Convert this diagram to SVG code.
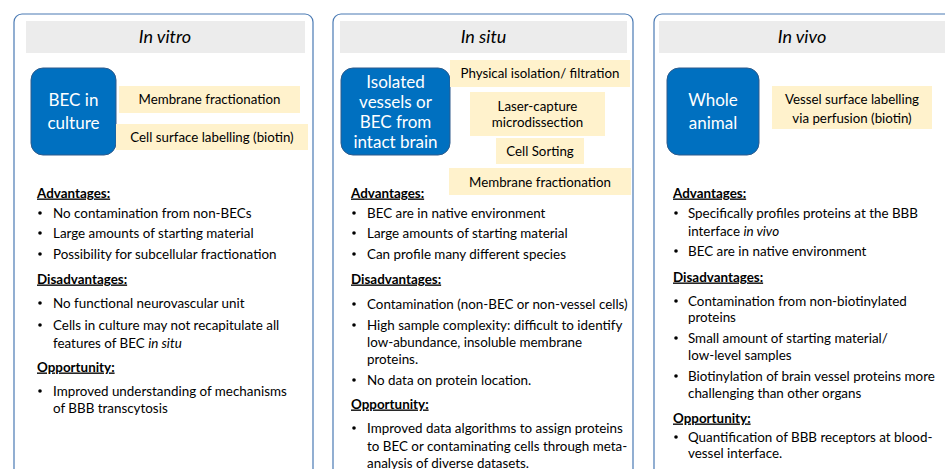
<svg xmlns="http://www.w3.org/2000/svg" width="945" height="469" viewBox="0 0 945 469">
<style>
.panel{fill:#fff;stroke:#4a7ab4;stroke-width:1.2}
.hdr{fill:#ececec}
.ht{font-family:Lato,"Liberation Sans",sans-serif;font-size:18px;font-style:italic;fill:#000;text-anchor:middle}
.blue{fill:#0070c0;stroke:#2e5b8c;stroke-width:1}
.bt{font-family:Lato,"Liberation Sans",sans-serif;font-size:17px;fill:#fff;text-anchor:middle}
.yel{fill:#fff2cc}
.yt{font-family:Lato,"Liberation Sans",sans-serif;font-size:13.3px;fill:#000;text-anchor:middle}
.t{font-family:Lato,"Liberation Sans",sans-serif;font-size:13.4px;fill:#000}
.h{font-weight:bold;text-decoration:underline}
.d{fill:#000}
</style>
<defs><circle id="b" r="1.8" class="d"/></defs>
<rect width="945" height="469" fill="#fff"/>

<g id="panel-in-vitro">
<rect class="panel" x="14" y="14" width="299" height="470" rx="8"/>
<rect class="hdr" x="26" y="21" width="279" height="32"/>
<text class="ht" x="165" y="42.5">In vitro</text>
<rect class="blue" x="31" y="68" width="85" height="87" rx="12"/>
<text class="bt" x="73.5" y="106">BEC in</text>
<text class="bt" x="73.5" y="129">culture</text>
<rect class="yel" x="119" y="86" width="181" height="27"/>
<text class="yt" x="209.5" y="104">Membrane fractionation</text>
<rect class="yel" x="116" y="124" width="192" height="26"/>
<text class="yt" x="212" y="141.5">Cell surface labelling (biotin)</text>
<text class="t h" x="37" y="197.5">Advantages:</text>
<use href="#b" x="40" y="213"/><text class="t" x="53" y="217.5">No contamination from non-BECs</text>
<use href="#b" x="40" y="233"/><text class="t" x="53" y="237.5">Large amounts of starting material</text>
<use href="#b" x="40" y="254"/><text class="t" x="53" y="258.5">Possibility for subcellular fractionation</text>
<text class="t h" x="37" y="283.5">Disadvantages:</text>
<use href="#b" x="40" y="303"/><text class="t" x="53" y="307.5">No functional neurovascular unit</text>
<use href="#b" x="40" y="325"/><text class="t" x="53" y="329.5">Cells in culture may not recapitulate all</text>
<text class="t" x="53" y="347.5">features of BEC <tspan font-style="italic">in situ</tspan></text>
<text class="t h" x="37" y="371.5">Opportunity:</text>
<use href="#b" x="40" y="391"/><text class="t" x="53" y="395.5">Improved understanding of mechanisms</text>
<text class="t" x="53" y="412.5">of BBB transcytosis</text>
</g>

<g id="panel-in-situ">
<rect class="panel" x="333" y="14" width="300" height="470" rx="8"/>
<rect class="hdr" x="340" y="21" width="287" height="32"/>
<text class="ht" x="483.5" y="42.5">In situ</text>
<rect class="blue" x="341" y="68" width="109" height="87" rx="12"/>
<text class="bt" x="395.5" y="88">Isolated</text>
<text class="bt" x="395.5" y="108">vessels or</text>
<text class="bt" x="395.5" y="128">BEC from</text>
<text class="bt" x="395.5" y="148">intact brain</text>
<rect class="yel" x="450" y="60" width="180" height="27"/>
<text class="yt" x="540" y="78">Physical isolation/ filtration</text>
<rect class="yel" x="470" y="92" width="135" height="44"/>
<text class="yt" x="537.5" y="110.5">Laser-capture</text>
<text class="yt" x="537.5" y="126.5">microdissection</text>
<rect class="yel" x="496" y="138" width="88" height="26"/>
<text class="yt" x="540" y="155.5">Cell Sorting</text>
<rect class="yel" x="449" y="168" width="182" height="27"/>
<text class="yt" x="540" y="186.5">Membrane fractionation</text>
<text class="t h" x="351" y="197.5">Advantages:</text>
<use href="#b" x="354" y="213"/><text class="t" x="367" y="217.5">BEC are in native environment</text>
<use href="#b" x="354" y="233"/><text class="t" x="367" y="237.5">Large amounts of starting material</text>
<use href="#b" x="354" y="254"/><text class="t" x="367" y="258.5">Can profile many different species</text>
<text class="t h" x="351" y="283.5">Disadvantages:</text>
<use href="#b" x="354" y="304"/><text class="t" x="367" y="308.5">Contamination (non-BEC or non-vessel cells)</text>
<use href="#b" x="354" y="325"/><text class="t" x="367" y="329.5">High sample complexity: difficult to identify</text>
<text class="t" x="367" y="346.5">low-abundance, insoluble membrane</text>
<text class="t" x="367" y="363.5">proteins.</text>
<use href="#b" x="354" y="380"/><text class="t" x="367" y="384.5">No data on protein location.</text>
<text class="t h" x="351" y="408.5">Opportunity:</text>
<use href="#b" x="354" y="428"/><text class="t" x="367" y="432.5">Improved data algorithms to assign proteins</text>
<text class="t" x="367" y="450.5">to BEC or contaminating cells through meta-</text>
<text class="t" x="367" y="467.5">analysis of diverse datasets.</text>
</g>

<g id="panel-in-vivo">
<rect class="panel" x="654" y="14" width="320" height="470" rx="8"/>
<rect class="hdr" x="659" y="21" width="290" height="32"/>
<text class="ht" x="802" y="42.5">In vivo</text>
<rect class="blue" x="667" y="68" width="92" height="87" rx="12"/>
<text class="bt" x="713" y="106">Whole</text>
<text class="bt" x="713" y="129">animal</text>
<rect class="yel" x="772" y="86" width="160" height="43"/>
<text class="yt" x="852" y="103.5">Vessel surface labelling</text>
<text class="yt" x="852" y="122.5">via perfusion (biotin)</text>
<text class="t h" x="673" y="197.5">Advantages:</text>
<use href="#b" x="676" y="213"/><text class="t" x="688" y="217.5">Specifically profiles proteins at the BBB</text>
<text class="t" x="688" y="235.5">interface <tspan font-style="italic">in vivo</tspan></text>
<use href="#b" x="676" y="251"/><text class="t" x="688" y="255.5">BEC are in native environment</text>
<text class="t h" x="673" y="281.5">Disadvantages:</text>
<use href="#b" x="676" y="301"/><text class="t" x="688" y="305.5">Contamination from non-biotinylated</text>
<text class="t" x="688" y="321.5">proteins</text>
<use href="#b" x="676" y="338"/><text class="t" x="688" y="342.5">Small amount of starting material/</text>
<text class="t" x="688" y="359.5">low-level samples</text>
<use href="#b" x="676" y="376"/><text class="t" x="688" y="380.5">Biotinylation of brain vessel proteins more</text>
<text class="t" x="688" y="397.5">challenging than other organs</text>
<text class="t h" x="673" y="422.5">Opportunity:</text>
<use href="#b" x="676" y="437"/><text class="t" x="688" y="441.5">Quantification of BBB receptors at blood-</text>
<text class="t" x="688" y="457.5">vessel interface.</text>
</g>
</svg>
